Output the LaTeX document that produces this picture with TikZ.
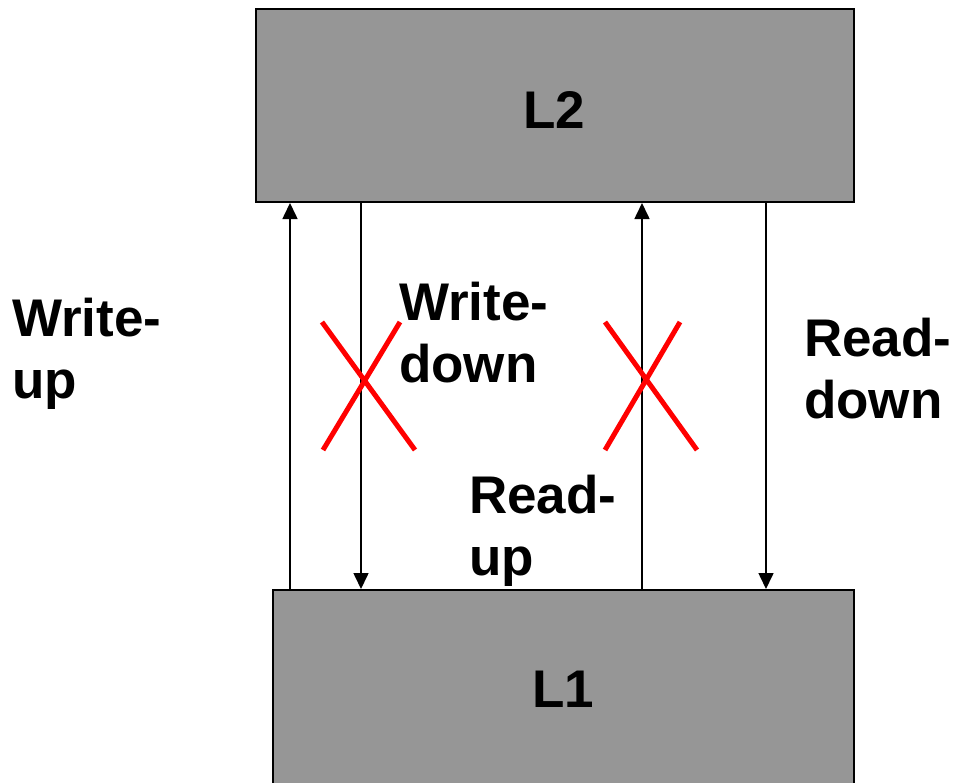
\documentclass[tikz,border=0pt]{standalone}
\usepackage{fontspec}
\setmainfont{Liberation Sans}
\usetikzlibrary{arrows.meta}
\begin{document}
\begin{tikzpicture}[x=1pt,y=-1pt,
  level/.style={draw=black,line width=2pt,fill=boxgray,inner sep=0pt,anchor=north west},
  lbl/.style={inner sep=0pt,anchor=base west,align=left,font=\bfseries\fontsize{53}{62}\selectfont},
  big/.style={inner sep=0pt,anchor=base,font=\bfseries\fontsize{53}{62}\selectfont},
  conn/.style={line width=1.6pt,-{Triangle[length=16pt,width=15pt]}},
  cross/.style={draw=red,line width=5pt}]
\definecolor{boxgray}{RGB}{150,150,150}
\useasboundingbox (0,0) rectangle (955,782);
\node[level,minimum width=598pt,minimum height=193pt] (L2) at (255,8) {};
\node[level,minimum width=581pt,minimum height=200pt] (L1) at (272,589) {};
\node[big] (t2) at (554,128) {L2};
\node[big] (t1) at (563,707) {L1};
\draw[conn] (L1.north -| 290,0) -- (L2.south -| 290,0);
\draw[conn] (L2.south -| 361,0) -- (L1.north -| 361,0);
\draw[conn] (L1.north -| 642,0) -- (L2.south -| 642,0);
\draw[conn] (L2.south -| 766,0) -- (L1.north -| 766,0);
\coordinate (a1) at (322,322); \coordinate (a2) at (415,450);
\coordinate (a3) at (400,322); \coordinate (a4) at (323,450);
\coordinate (b1) at (605,322); \coordinate (b2) at (697,450);
\coordinate (b3) at (680,322); \coordinate (b4) at (605,450);
\draw[cross] (a1) -- (a2) (a3) -- (a4);
\draw[cross] (b1) -- (b2) (b3) -- (b4);
\node[lbl] (wu) at (12,398) {Write-\\up};
\node[lbl] (wd) at (399,382) {Write-\\down};
\node[lbl] (ru) at (469,575) {Read-\\up};
\node[lbl] (rd) at (804,418) {Read-\\down};
\end{tikzpicture}
\end{document}
